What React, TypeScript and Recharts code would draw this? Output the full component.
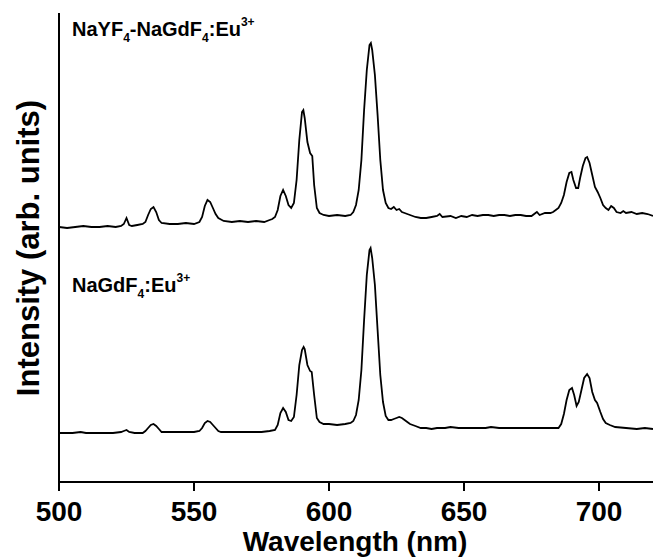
import { Label, Line, LineChart, XAxis, YAxis } from 'recharts'

// NaYF4-NaGdF4:Eu3+ (upper trace, offset)
const coreShellWavelength = [
  500, 503, 506, 509, 512, 515, 518, 521, 523, 524, 525, 526, 527, 529, 531, 532, 533, 534, 535, 536,
  537, 538, 541, 544, 547, 550, 552, 553, 554, 555, 556, 557, 558, 559, 561, 564, 567, 570, 573, 576,
  578, 579, 580, 581, 582, 583, 584, 585, 586, 587, 588, 589, 590, 590.5, 591, 592, 593, 593.8, 594.5, 595.5,
  596.5, 598, 600, 603, 606, 608, 609, 610, 611, 612, 613, 614, 615, 615.5, 616, 617, 618, 619, 620, 621,
  622, 623, 624, 625, 626, 627, 628, 630, 632, 634, 636, 638, 640, 641, 642, 645, 647, 649, 651, 653,
  655, 657, 659, 661, 663, 665, 667, 669, 671, 673, 675, 677, 678, 680, 682, 683, 684, 685, 686, 687,
  688, 689, 689.8, 690.5, 691.5, 692.3, 693, 694, 695, 695.6, 696.5, 697.5, 698.5, 699.5, 700.5, 701.5, 702.5, 703.5, 704.5, 705.5,
  706.5, 708, 709, 710, 712, 714, 716, 718, 720,
]
const coreShellIntensity = [
  255, 254, 255, 256, 255, 255, 256, 255, 256, 258, 264, 257, 256, 257, 258, 260, 267, 273, 275, 270,
  262, 259, 258, 258, 259, 258, 260, 265, 276, 282, 280, 274, 268, 264, 261, 260, 261, 260, 261, 260,
  262, 263, 265, 272, 286, 292, 286, 277, 274, 279, 302, 342, 370, 372, 364, 340, 329, 326, 297, 274,
  269, 267, 266, 267, 266, 267, 270, 277, 292, 322, 372, 412, 437, 439, 432, 407, 367, 322, 292, 279,
  274, 273, 275, 272, 273, 270, 269, 267, 265, 264, 264, 265, 266, 268, 265, 266, 264, 266, 265, 267,
  266, 267, 267, 266, 267, 267, 266, 267, 267, 266, 266, 270, 267, 269, 269, 270, 272, 274, 279, 287,
  300, 309, 310, 302, 294, 294, 304, 316, 324, 325, 319, 307, 295, 290, 284, 277, 274, 272, 276, 274,
  270, 269, 271, 269, 270, 268, 269, 268, 266,
]

// NaGdF4:Eu3+ (lower trace)
const coreWavelength = [
  500, 505, 508, 510, 515, 520, 523, 524, 525, 526, 528, 531, 532, 533, 534, 535, 536, 537, 538, 540,
  545, 550, 552, 553, 554, 555, 556, 557, 558, 559, 560, 565, 570, 575, 578, 580, 581, 582, 583, 584,
  585, 586, 587, 588, 589, 590, 590.6, 591, 592, 593, 593.6, 594.5, 595.5, 596.5, 598, 600, 603, 606, 608, 609,
  610, 611, 612, 613, 614, 615, 615.4, 616, 617, 618, 619, 620, 621, 622, 623, 624, 625, 626, 627, 628,
  629, 630, 632, 634, 636, 638, 640, 643, 645, 648, 650, 652, 655, 658, 660, 663, 666, 670, 673, 676,
  680, 683, 685, 686, 687, 688, 689, 690, 690.8, 691.7, 692.5, 693.5, 694.5, 695.6, 696.5, 697.5, 698.5, 699.3, 700.5, 701.5,
  702.5, 704, 706, 710, 714, 717, 720,
]
const coreIntensity = [
  49, 49, 50, 49, 49, 49, 50, 51, 52, 50, 49, 49, 51, 54, 57, 58, 56, 53, 50, 50,
  50, 50, 51, 54, 59, 61, 60, 57, 54, 51, 50, 50, 50, 50, 51, 52, 57, 69, 74, 70,
  62, 61, 65, 87, 117, 132, 135, 133, 117, 111, 110, 87, 64, 60, 58, 58, 57, 58, 59, 61,
  67, 82, 112, 162, 207, 232, 234, 224, 197, 152, 107, 80, 66, 62, 62, 63, 64, 65, 64, 62,
  60, 58, 56, 54, 54, 53, 54, 54, 55, 54, 54, 54, 54, 54, 55, 54, 54, 54, 54, 54,
  54, 54, 54, 58, 68, 82, 92, 94, 87, 76, 80, 92, 104, 108, 104, 90, 82, 79, 70, 63,
  59, 57, 55, 54, 53, 54, 53,
]

const xTicks = [500, 550, 600, 650, 700]

const coreShellData = coreShellWavelength.map((w, i) => ({ w, v: coreShellIntensity[i] }))
const coreData = coreWavelength.map((w, i) => ({ w, v: coreIntensity[i] }))

const FONT = '"Liberation Sans", Arial, sans-serif'

// chemical formula with baseline-shifted sub/superscripts
function Chemical({ x, y, segs }: { x: number; y: number; segs: [string, 'n' | 'sub' | 'sup'][] }) {
  let shift = 0
  return (
    <text x={x} y={y} fontFamily={FONT} fontWeight="bold" fontSize={20} fill="#000">
      {segs.map(([t, kind], i) => {
        const target = kind === 'sub' ? 6 : kind === 'sup' ? -10 : 0
        const dy = target - shift
        shift = target
        return (
          <tspan key={i} dy={dy} fontSize={kind === 'n' ? 20 : 12}>
            {t}
          </tspan>
        )
      })}
    </text>
  )
}

export default function App() {
  return (
    <div style={{ position: 'absolute', left: 0, top: 0, width: 653, height: 558, background: '#fff' }}>
      <LineChart width={653} height={558} margin={{ top: 13, right: 0, bottom: 0, left: 0 }}>
        <XAxis
          type="number"
          dataKey="w"
          domain={[500, 720]}
          ticks={xTicks}
          allowDataOverflow
          height={76}
          tickSize={9}
          tickMargin={10}
          axisLine={{ stroke: '#000', strokeWidth: 2 }}
          tickLine={{ stroke: '#000', strokeWidth: 2 }}
          tick={{ fill: '#000', fontSize: 28, fontWeight: 'bold', fontFamily: FONT }}
        >
          <Label
            content={() => (
              <text
                x={355}
                y={551}
                textAnchor="middle"
                fontFamily={FONT}
                fontWeight="bold"
                fontSize={28}
                fill="#000"
              >
                Wavelength (nm)
              </text>
            )}
          />
        </XAxis>
        <YAxis
          type="number"
          domain={[0, 469]}
          width={59}
          tick={false}
          tickLine={false}
          axisLine={{ stroke: '#000', strokeWidth: 2 }}
        >
          <Label
            content={() => (
              <text
                x={39}
                y={248}
                transform="rotate(-90 39 248)"
                textAnchor="middle"
                fontFamily={FONT}
                fontWeight="bold"
                fontSize={31}
                fill="#000"
              >
                Intensity (arb. units)
              </text>
            )}
          />
        </YAxis>
        <Line
          data={coreShellData}
          dataKey="v"
          type="linear"
          stroke="#000"
          strokeWidth={1.8}
          dot={false}
          isAnimationActive={false}
        />
        <Line
          data={coreData}
          dataKey="v"
          type="linear"
          stroke="#000"
          strokeWidth={1.8}
          dot={false}
          isAnimationActive={false}
        />
      </LineChart>
      <svg width={653} height={558} style={{ position: 'absolute', left: 0, top: 0, pointerEvents: 'none' }}>
        <Chemical
          x={72}
          y={36}
          segs={[
            ['NaYF', 'n'],
            ['4', 'sub'],
            ['-NaGdF', 'n'],
            ['4', 'sub'],
            [':Eu', 'n'],
            ['3+', 'sup'],
          ]}
        />
        <Chemical
          x={72}
          y={292}
          segs={[
            ['NaGdF', 'n'],
            ['4', 'sub'],
            [':Eu', 'n'],
            ['3+', 'sup'],
          ]}
        />
      </svg>
    </div>
  )
}
